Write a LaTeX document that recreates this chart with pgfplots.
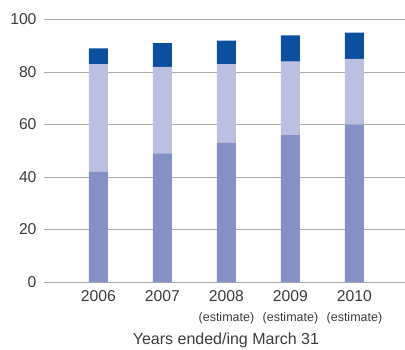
\documentclass[border=0pt]{standalone}
\usepackage{pgfplots}
\pgfplotsset{compat=1.18}
\usepackage{fontspec}
\setmainfont{Liberation Sans}

\definecolor{basecol}{RGB}{132,145,199}
\definecolor{midcol}{RGB}{188,192,224}
\definecolor{topcol}{RGB}{12,78,162}
\definecolor{gridcol}{RGB}{172,172,172}
\definecolor{txtcol}{RGB}{60,60,60}

\begin{document}
\begin{tikzpicture}
\path[use as bounding box] (0,0) rectangle (405pt,349pt);
\begin{axis}[
  at={(44pt,67pt)}, anchor=south west,
  scale only axis,
  width=361pt, height=262.5pt,
  ybar stacked, bar width=19pt, bar shift=0pt,
  xmin=-0.85, xmax=4.79,
  ymin=0, ymax=100,
  ytick={0,20,40,60,80,100},
  xtick={0,1,2,3,4},
  xticklabels={2006,2007,
    {2008\\[2pt]{\fontsize{12.5}{14}\selectfont(estimate)}},
    {2009\\[2pt]{\fontsize{12.5}{14}\selectfont(estimate)}},
    {2010\\[2pt]{\fontsize{12.5}{14}\selectfont(estimate)}}},
  axis line style={draw=none},
  major tick length=0pt,
  ymajorgrids,
  grid style={gridcol, line width=0.9pt},
  /pgf/number format/assume math mode=true,
  tick label style={font=\fontsize{15.7}{18}\selectfont, text=txtcol},
  y tick label style={anchor=east, xshift=-4pt},
  x tick label style={align=center, anchor=north, yshift=-5pt},
  xlabel={Years ended/ing March 31},
  xlabel style={font=\fontsize{16}{18}\selectfont, text=txtcol,
    at={(rel axis cs:0.504,0)}, anchor=base, yshift=-62.5pt},
]
\addplot[fill=basecol, draw=none] coordinates {(0,42) (1,49) (2,53) (3,56) (4,60)};
\addplot[fill=midcol, draw=none] coordinates {(0,41) (1,33) (2,30) (3,28) (4,25)};
\addplot[fill=topcol, draw=none] coordinates {(0,6) (1,9) (2,9) (3,10) (4,10)};
\end{axis}
\end{tikzpicture}
\end{document}
